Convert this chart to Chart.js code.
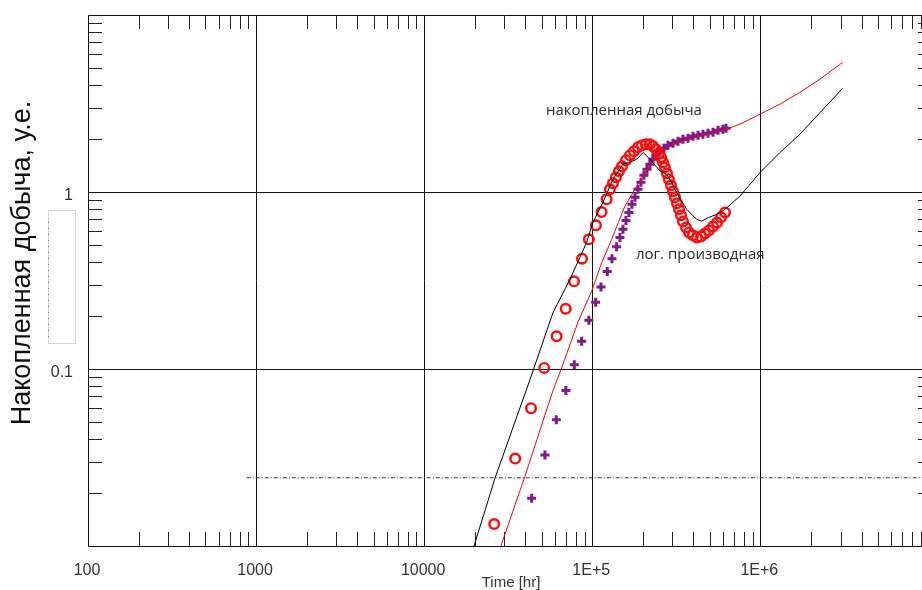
<!DOCTYPE html>
<html>
<head>
<meta charset="utf-8">
<script src="https://cdn.jsdelivr.net/npm/chart.js@4.4.0/dist/chart.umd.min.js"></script>
<style>
    html, body { margin: 0; padding: 0; background: #fff; }
    #wrap { width: 922px; height: 590px; position: relative; }
</style>
</head>
<body>
<div id="wrap"><canvas id="chart" width="922" height="590"></canvas></div>
<script>
// Ось X: время, ч (логарифм.)
const xDecades = [100, 1000, 10000, 1e5, 1e6];
const xTickLabels = ['100', '1000', '10000', '1E+5', '1E+6'];
const yDecades = [0.1, 1];
const yTickLabels = ['0.1', '1'];

// лог. производная - фактические точки (кружки)
const derivT = [26100, 34800, 43200, 51800, 61400, 69500, 77900, 86900, 95500, 105200, 113700, 121800,
    127450, 132800, 138400, 144200, 150300, 158700, 167600, 177100, 187100, 197600, 208700, 220500,
    229800, 239400, 249500, 256400, 263500, 270800, 278300, 286000, 294100, 302200, 310700, 319300,
    328200, 337300, 346700, 361200, 376400, 397600, 420000, 443600, 468600, 495000, 523100, 552500,
    583600, 616500];
const derivY = [0.0133, 0.0312, 0.0601, 0.1014, 0.153, 0.219, 0.313, 0.420, 0.540, 0.648, 0.770, 0.909,
    1.036, 1.120, 1.211, 1.310, 1.398, 1.512, 1.614, 1.700, 1.791, 1.839, 1.862, 1.862,
    1.815, 1.745, 1.656, 1.572, 1.473, 1.380, 1.276, 1.180, 1.091, 1.009, 0.933, 0.863,
    0.798, 0.738, 0.682, 0.631, 0.591, 0.569, 0.554, 0.561, 0.583, 0.607, 0.639, 0.673,
    0.719, 0.767];

// накопленная добыча - фактические точки (кресты)
const cumT = [43600, 52300, 61100, 69700, 78200, 86500, 95500, 104800, 112700, 122800, 131000, 139700,
    146200, 152300, 158700, 165300, 172300, 179600, 187100, 195000, 203100, 211700, 220500, 229800,
    239400, 252900, 267200, 282200, 302200, 323700, 346700, 371200, 397600, 425800, 456000, 488400,
    523100, 560200, 599800, 624900];
const cumY = [0.0186, 0.0327, 0.0516, 0.0757, 0.1058, 0.1433, 0.1885, 0.238, 0.291, 0.356, 0.420, 0.491,
    0.554, 0.615, 0.691, 0.767, 0.852, 0.933, 1.036, 1.135, 1.243, 1.345, 1.435, 1.532,
    1.614, 1.700, 1.768, 1.839, 1.887, 1.937, 1.988, 2.015, 2.068, 2.095, 2.122, 2.150,
    2.178, 2.235, 2.265, 2.295];

// модель: производная (чёрная линия)
const modelDerivT = [19800, 26360, 42600, 58400, 73700, 92600, 100900, 115800, 132800, 152300, 167600,
    183700, 201200, 220500, 252900, 277300, 297100, 325100, 364800, 418000, 448000, 490000, 550000,
    616500, 757000, 996000, 1310000, 1720000, 2270000, 3090000];
const modelDerivY = [0.0100, 0.0241, 0.0870, 0.208, 0.321, 0.519, 0.674, 0.874, 1.180, 1.435, 1.473,
    1.531, 1.672, 1.531, 1.315, 1.259, 1.130, 0.949, 0.798, 0.700, 0.685, 0.716, 0.748,
    0.798, 0.949, 1.288, 1.672, 2.121, 2.815, 3.85];

// модель: накопленная добыча (красная линия)
const modelCumT = [28600, 39730, 58600, 65750, 82600, 99200, 113700, 130400, 156600, 192300, 241700,
    303400, 437500, 631000, 757000, 996000, 1310000, 1720000, 2270000, 3090000];
const modelCumY = [0.0100, 0.0247, 0.0763, 0.1014, 0.186, 0.275, 0.398, 0.540, 0.833, 1.154, 1.599,
    1.862, 2.067, 2.265, 2.417, 2.754, 3.138, 3.654, 4.348, 5.40];

// горизонтальная пунктирная линия
const refT = [880, 1e7];
const refY = [0.0243, 0.0243];

function pts(xs, ys) {
    return xs.map((x, i) => ({ x: x, y: ys[i] }));
}

const minorMult = [2, 3, 4, 5, 6, 7, 8, 9];

const framePlugin = {
    id: 'frame',
    beforeDatasetsDraw(chart) {
        const { ctx, chartArea: a, scales: { x, y } } = chart;
        ctx.save();
        ctx.strokeStyle = '#111';
        ctx.lineWidth = 1;
        ctx.beginPath();
        [1000, 10000, 1e5, 1e6].forEach(v => {
            const px = Math.round(x.getPixelForValue(v)) + 0.5;
            ctx.moveTo(px, a.top);
            ctx.lineTo(px, a.bottom);
        });
        yDecades.forEach(v => {
            const py = Math.round(y.getPixelForValue(v)) + 0.5;
            ctx.moveTo(a.left, py);
            ctx.lineTo(a.right, py);
        });
        ctx.stroke();

        // малые деления внутри поля
        ctx.strokeStyle = '#222';
        ctx.beginPath();
        [100, 1000, 10000, 1e5, 1e6].forEach(d => {
            minorMult.forEach(m => {
                const v = d * m;
                if (v > x.max) return;
                const px = Math.round(x.getPixelForValue(v)) + 0.5;
                ctx.moveTo(px, a.bottom);
                ctx.lineTo(px, a.bottom - 14);
                ctx.moveTo(px, a.top);
                ctx.lineTo(px, a.top + 14);
            });
        });
        [0.01, 0.1, 1].forEach(d => {
            minorMult.forEach(m => {
                const v = d * m;
                const py = Math.round(y.getPixelForValue(v)) + 0.5;
                ctx.moveTo(a.left, py);
                ctx.lineTo(a.left + 14, py);
                ctx.moveTo(a.right, py);
                ctx.lineTo(a.right - 4, py);
            });
        });
        ctx.stroke();

        // рамка
        ctx.strokeStyle = '#111';
        ctx.beginPath();
        ctx.moveTo(a.right, a.top + 0.5);
        ctx.lineTo(a.left + 0.5, a.top + 0.5);
        ctx.lineTo(a.left + 0.5, a.bottom + 0.5);
        ctx.lineTo(a.right, a.bottom + 0.5);
        ctx.stroke();
        ctx.restore();
    },
    afterDraw(chart) {
        const { ctx, scales: { x, y } } = chart;
        ctx.save();
        ctx.fillStyle = '#333';
        ctx.font = '16px "Liberation Sans", Arial, sans-serif';
        ctx.textAlign = 'center';
        ctx.textBaseline = 'middle';
        xDecades.forEach((v, i) => {
            ctx.fillText(xTickLabels[i], x.getPixelForValue(v) - 1, 571);
        });
        ctx.textAlign = 'right';
        yDecades.forEach((v, i) => {
            ctx.fillText(yTickLabels[i], 73, y.getPixelForValue(v) + 4);
        });

        ctx.textAlign = 'center';
        ctx.font = '15px "Liberation Sans", Arial, sans-serif';
        ctx.fillText('Time [hr]', 511, 583);

        // подпись оси Y
        ctx.save();
        ctx.translate(23, 263);
        ctx.rotate(-Math.PI / 2);
        ctx.fillStyle = '#111';
        ctx.font = '27px "Liberation Sans", Arial, sans-serif';
        ctx.fillText('Накопленная добыча, у.е.', 0, 0);
        ctx.restore();

        // пустая рамка легенды слева
        ctx.strokeStyle = '#d4d4d4';
        ctx.lineWidth = 1;
        ctx.strokeRect(48.5, 210.5, 27, 133);
        ctx.fillStyle = '#777';
        for (let yy = 222; yy < 338; yy += 6) ctx.fillRect(48, yy, 1, 1);

        // подписи кривых
        ctx.fillStyle = '#2a2a2a';
        ctx.textAlign = 'left';
        ctx.font = '15px "Open Sans", sans-serif';
        ctx.fillText('накопленная добыча', 546, 111);
        ctx.fillText('лог. производная', 636, 255);
        ctx.restore();
    }
};

new Chart(document.getElementById('chart'), {
    type: 'scatter',
    data: {
        datasets: [
            {
                label: 'модель производная',
                data: pts(modelDerivT, modelDerivY),
                showLine: true, pointRadius: 0, borderColor: '#000', borderWidth: 1, order: 0
            },
            {
                label: 'модель накопленная',
                data: pts(modelCumT, modelCumY),
                showLine: true, pointRadius: 0, borderColor: '#ff0000', borderWidth: 1, order: 0
            },
            {
                label: 'уровень',
                data: pts(refT, refY),
                showLine: true, pointRadius: 0, borderColor: '#333', borderWidth: 1,
                borderDash: [4, 2, 1, 2], order: 0
            },
            {
                label: 'лог. производная',
                data: pts(derivT, derivY),
                pointStyle: 'circle', pointRadius: 4.8, borderWidth: 2.4,
                borderColor: '#ff0a0a', backgroundColor: 'rgba(255,255,255,0)', order: 1
            },
            {
                label: 'накопленная добыча',
                data: pts(cumT, cumY),
                pointStyle: 'cross', pointRadius: 4.5, borderWidth: 3,
                borderColor: '#7d1a8c', order: 2
            }
        ]
    },
    options: {
        responsive: false,
        devicePixelRatio: 1,
        animation: false,
        layout: { autoPadding: false, padding: { left: 88, top: 15, right: 0, bottom: 44 } },
        scales: {
            x: { type: 'logarithmic', min: 100, max: 9.16e6, display: false },
            y: { type: 'logarithmic', min: 0.01, max: 10, display: false }
        },
        plugins: {
            legend: { display: false },
            tooltip: { enabled: false }
        }
    },
    plugins: [framePlugin]
});
</script>
</body>
</html>
